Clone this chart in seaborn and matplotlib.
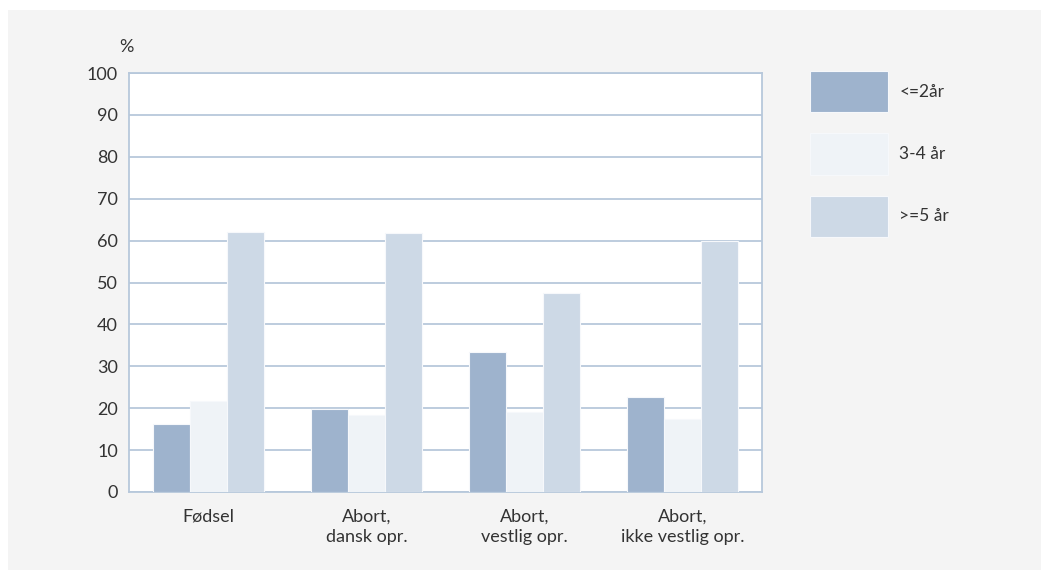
import matplotlib
matplotlib.use("Agg")
import matplotlib.pyplot as plt
from matplotlib.patches import Rectangle
import pandas as pd
import seaborn as sns

categories = ["Fødsel", "Abort,\ndansk opr.", "Abort,\nvestlig opr.", "Abort,\nikke vestlig opr."]
groups = ["<=2år", "3-4 år", ">=5 år"]
share_le2 = [16.3, 19.9, 33.3, 22.6]
share_3_4 = [21.8, 18.3, 19.0, 17.5]
share_ge5 = [62.0, 61.8, 47.5, 59.8]
yticks = [0, 10, 20, 30, 40, 50, 60, 70, 80, 90, 100]

colors = ["#9eb3cd", "#eff3f7", "#cdd9e6"]
grid_col = "#b7c8db"
text_col = "#333333"

df = pd.DataFrame({
    "kategori": categories * 3,
    "gruppe": [groups[0]] * 4 + [groups[1]] * 4 + [groups[2]] * 4,
    "andel": share_le2 + share_3_4 + share_ge5,
})

sns.set_theme(style="white")
plt.rcParams["font.family"] = ["Lato", "DejaVu Sans"]

W, H = 1041, 570
fig = plt.figure(figsize=(W / 100, H / 100), dpi=100, facecolor="white")
fig.patches.append(Rectangle((8 / W, 0), 1 - 8 / W, 1 - 10 / H, transform=fig.transFigure,
                             facecolor="#f4f4f4", edgecolor="none", zorder=-10))

ax = fig.add_axes([129 / W, 78 / H, (762 - 129) / W, (492 - 73) / H])
ax.set_facecolor("white")

sns.barplot(data=df, x="kategori", y="andel", hue="gruppe", order=categories,
            hue_order=groups, palette=colors, saturation=1, width=0.7, ax=ax,
            edgecolor="#f6f8fb", linewidth=0.8, zorder=3)

ax.set_ylim(0, 100)
ax.set_yticks(yticks)
ax.set_yticklabels([str(v) for v in yticks])
ax.yaxis.grid(True, color=grid_col, linewidth=1.3, zorder=0)
ax.set_axisbelow(True)
for side in ["left", "right", "top", "bottom"]:
    ax.spines[side].set_visible(True)
    ax.spines[side].set_color(grid_col)
    ax.spines[side].set_linewidth(1.3)
ax.tick_params(axis="both", length=0, labelsize=13, labelcolor=text_col)
ax.tick_params(axis="y", pad=8)
ax.tick_params(axis="x", pad=12)
for lbl in ax.get_xticklabels():
    lbl.set_linespacing(1.35)
ax.set_xlabel("")
ax.set_ylabel("")

handles, labels = ax.get_legend_handles_labels()
ax.get_legend().remove()
fig.legend(handles, labels, loc="upper left", bbox_to_anchor=(810 / W, 1 - 71 / H),
           frameon=False, fontsize=12.5, labelcolor=text_col, borderpad=0,
           borderaxespad=0, handlelength=4.5, handleheight=3.3,
           labelspacing=1.2, handletextpad=0.65)

fig.text(126 / W, 1 - 47 / H, "%", ha="center", va="center", fontsize=13, color=text_col)

fig.savefig("out.png", dpi=100, facecolor=fig.get_facecolor())
